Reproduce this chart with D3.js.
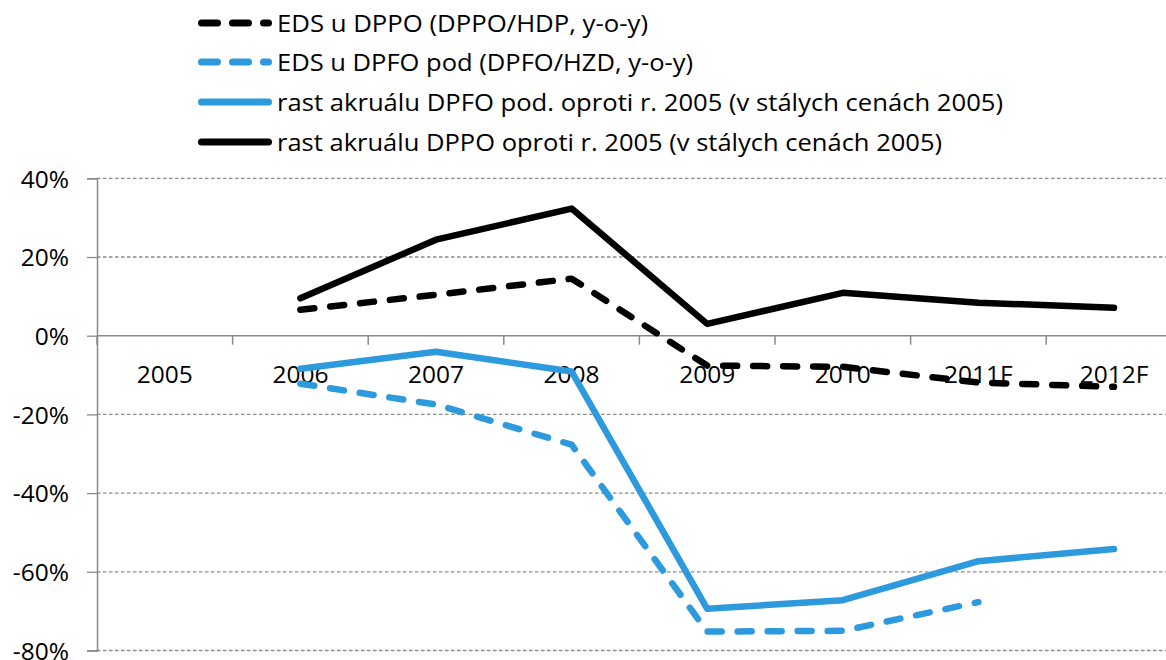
<!DOCTYPE html>
<html><head><meta charset="utf-8">
<script src="https://cdn.jsdelivr.net/npm/d3@7"></script>
<style>body{margin:0;background:#fff}svg{display:block}text{font-family:"Open Sans",sans-serif;fill:#000}</style>
</head><body><svg id="c" width="1166" height="660"></svg>
<script>
const categories = ["2005","2006","2007","2008","2009","2010","2011F","2012F"];
const edsDPPO   = [null, 6.6, 10.4, 14.5, -7.6, -7.9, -11.9, -13.0];
const edsDPFO   = [null, -12.2, -17.5, -27.7, -75.2, -75.0, -67.7, null];
const rastDPFO  = [null, -8.4, -4.1, -9.1, -69.4, -67.2, -57.3, -54.2];
const rastDPPO  = [null, 9.5, 24.4, 32.3, 3.0, 10.9, 8.4, 7.1];
const yTicks = [40, 20, 0, -20, -40, -60, -80];
const legendLabels = [
  "EDS u DPPO (DPPO/HDP, y-o-y)",
  "EDS u DPFO pod (DPFO/HZD, y-o-y)",
  "rast akruálu DPFO pod. oproti r. 2005 (v stálych cenách 2005)",
  "rast akruálu DPPO oproti r. 2005 (v stálych cenách 2005)"
];

const series = [
  {name: legendLabels[0], values: edsDPPO, color: "#000000", dashed: true},
  {name: legendLabels[1], values: edsDPFO, color: "#2e9ade", dashed: true},
  {name: legendLabels[2], values: rastDPFO, color: "#2e9ade", dashed: false},
  {name: legendLabels[3], values: rastDPPO, color: "#000000", dashed: false}
];

const svg = d3.select("#c");
const x0 = 97, bandW = 135.6;
const x = d3.scaleBand().domain(categories).range([x0, x0 + bandW * categories.length]);
const y = d3.scaleLinear().domain([-80, 40]).range([650.5, 178.3]);
const axisColor = "#8a8a8a";

// gridlines
svg.append("g").selectAll("line").data(yTicks.filter(d => d !== 0)).join("line")
  .attr("x1", x0).attr("x2", 1166)
  .attr("y1", d => y(d)).attr("y2", d => y(d))
  .attr("stroke", axisColor).attr("stroke-width", 1.3).attr("stroke-dasharray", "3.5,2.5");

// y axis
const yAxis = svg.append("g").attr("transform", `translate(${x0},0)`)
  .call(d3.axisLeft(y).tickValues(yTicks).tickSize(10).tickFormat(d => d + "%"));
yAxis.attr("font-size", null).attr("font-family", null);
yAxis.select(".domain").attr("stroke", axisColor).attr("stroke-width", 1.5);
yAxis.selectAll(".tick line").attr("stroke", axisColor).attr("stroke-width", 1.3);
yAxis.selectAll(".tick text").attr("x", -28).attr("dy", "0.36em")
  .style("font-size", "24.5px").style("font-family", "'Open Sans', sans-serif");

// x axis at 0
const xg = svg.append("g");
xg.append("line").attr("x1", x0).attr("x2", 1166).attr("y1", y(0)).attr("y2", y(0))
  .attr("stroke", axisColor).attr("stroke-width", 1.5);
const bounds = categories.map(c => x(c)).concat([x0 + bandW * categories.length]);
xg.selectAll("line.tk").data(bounds).join("line").attr("class", "tk")
  .attr("x1", d => d).attr("x2", d => d).attr("y1", y(0)).attr("y2", y(0) + 9)
  .attr("stroke", axisColor).attr("stroke-width", 1.5);
xg.selectAll("text").data(categories).join("text")
  .attr("x", d => x(d) + x.bandwidth() / 2).attr("y", y(0) + 47.5)
  .attr("text-anchor", "middle").style("font-size", "24.5px").text(d => d);

// lines
const line = d3.line().defined(d => d.v !== null)
  .x(d => x(d.c) + x.bandwidth() / 2).y(d => y(d.v));
series.forEach(s => {
  svg.append("path")
    .datum(categories.map((c, i) => ({c, v: s.values[i]})))
    .attr("d", line).attr("fill", "none").attr("stroke", s.color)
    .attr("stroke-width", 6.5).attr("stroke-linecap", "round").attr("stroke-linejoin", "round")
    .attr("stroke-dasharray", s.dashed ? "14,16" : null);
});

// legend
const legendWidths = [371, 416, 726, 665];
const legendY = [23, 62, 102, 142];
const lg = svg.append("g");
series.forEach((s, i) => {
  const cy = legendY[i];
  lg.append("line").attr("x1", 201.5).attr("x2", 268.5).attr("y1", cy).attr("y2", cy)
    .attr("stroke", s.color).attr("stroke-width", 7).attr("stroke-linecap", "round")
    .attr("stroke-dasharray", s.dashed ? "16,15" : null);
  lg.append("text").attr("x", 277).attr("y", cy).attr("dy", "0.36em").style("font-size", "24.5px")
    .attr("textLength", legendWidths[i]).attr("lengthAdjust", "spacingAndGlyphs").text(s.name);
});
</script></body></html>
